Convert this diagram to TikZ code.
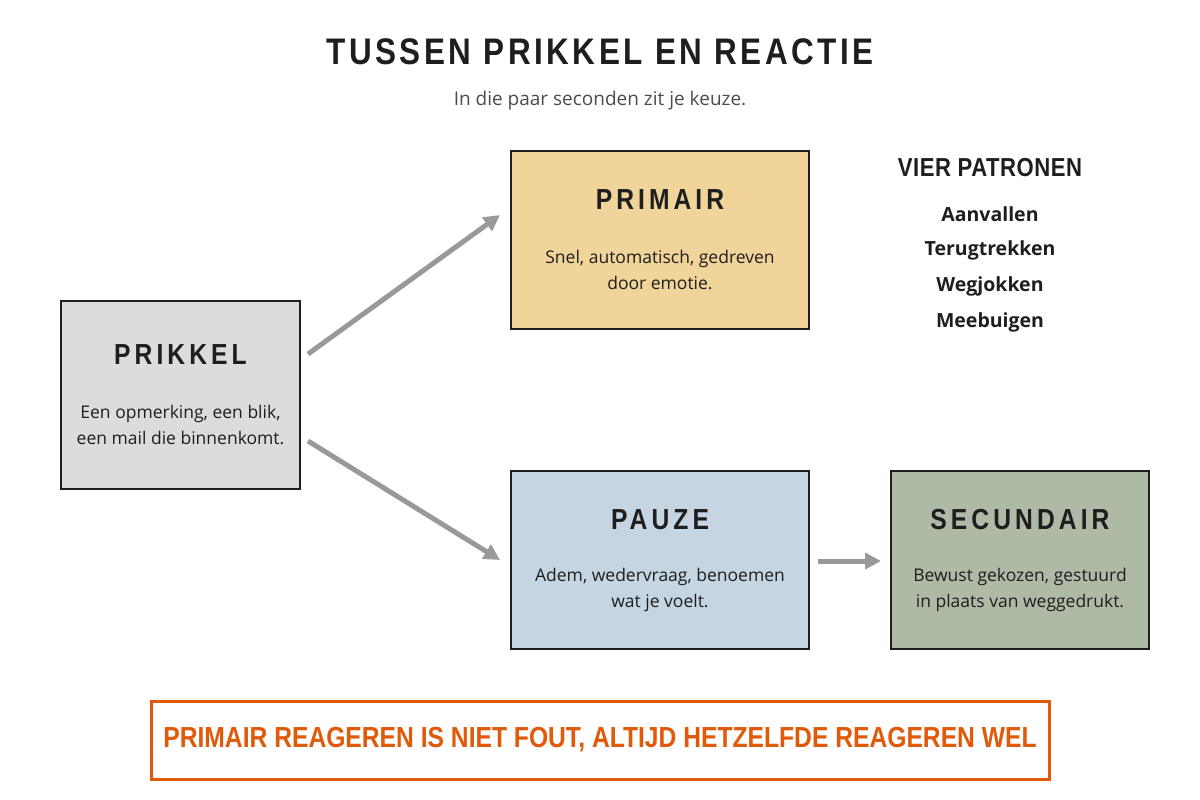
\documentclass[tikz,border=0pt]{standalone}
\usepackage{fontspec}
\setmainfont{Open Sans}
\newfontfamily\hdT{Liberation Sans}[FakeStretch=0.85,LetterSpace=9.5]
\newfontfamily\hdB{Liberation Sans}[FakeStretch=0.85,LetterSpace=14]
\newfontfamily\hdV{Liberation Sans}[FakeStretch=0.85,LetterSpace=2]
\newfontfamily\hd{Liberation Sans}[FakeStretch=0.85]
\usetikzlibrary{arrows.meta}
\definecolor{ink}{HTML}{1E1E1E}
\definecolor{cPrik}{HTML}{DCDCDC}
\definecolor{cPrim}{HTML}{F0D49A}
\definecolor{cPauz}{HTML}{C5D5E2}
\definecolor{cSec}{HTML}{AEBAA6}
\definecolor{org}{HTML}{E05A0A}
\definecolor{arr}{HTML}{999999}
\begin{document}
\begin{tikzpicture}[x=1pt,y=-1pt,
 box/.style={draw=ink,line width=2.5pt,inner sep=0pt},
 ttl/.style={font=\hdB\bfseries\fontsize{29}{32}\selectfont,text=ink},
 body/.style={font=\fontsize{17.5}{26}\selectfont,text=ink,align=center},
 ar/.style={draw=arr,line width=5pt,-{Triangle[length=16pt,width=16pt]}},
 pat/.style={font=\bfseries\fontsize{19.5}{22}\selectfont,text=ink}]
\useasboundingbox (0,0) rectangle (1200,800);
\node[font=\hdT\bfseries\fontsize{37}{40}\selectfont,text=ink] (title) at (600,52) {TUSSEN PRIKKEL EN REACTIE};
\node[font=\fontsize{19}{22}\selectfont,text=black!70] (sub) at (600,101) {In die paar seconden zit je keuze.};
\node[box,fill=cPrik,minimum width=239pt,minimum height=188pt] (prik) at (180.5,395) {};
\node[ttl] (prikt) at (180.5,355) {PRIKKEL};
\node[body] (prikb) at (180.5,425) {Een opmerking, een blik,\\een mail die binnenkomt.};
\node[box,fill=cPrim,minimum width=298pt,minimum height=178pt] (prim) at (660,240) {};
\node[ttl] (primt) at (660,200) {PRIMAIR};
\node[body] (primb) at (660,270) {Snel, automatisch, gedreven\\door emotie.};
\node[box,fill=cPauz,minimum width=298pt,minimum height=178pt] (pauz) at (660,560) {};
\node[ttl] (pauzt) at (660,520) {PAUZE};
\node[body] (pauzb) at (660,590) {Adem, wedervraag, benoemen\\wat je voelt.};
\node[box,fill=cSec,minimum width=258pt,minimum height=178pt] (sec) at (1020,560) {};
\node[ttl] (sect) at (1020,520) {SECUNDAIR};
\node[body] (secb) at (1020,590) {Bewust gekozen, gestuurd\\in plaats van weggedrukt.};
\node[font=\hdV\bfseries\fontsize{26}{28}\selectfont,text=ink] (vp) at (990,168) {VIER PATRONEN};
\node[pat] (p1) at (990,214) {Aanvallen};
\node[pat] (p2) at (990,250) {Terugtrekken};
\node[pat] (p3) at (990,286) {Wegjokken};
\node[pat] (p4) at (990,322) {Meebuigen};
\coordinate (a1s) at (308,354); \coordinate (a1e) at (500,215);
\coordinate (a2s) at (308,441); \coordinate (a2e) at (500,560);
\coordinate (a3s) at (818,561); \coordinate (a3e) at (881,561);
\draw[ar] (a1s) -- (a1e);
\draw[ar] (a2s) -- (a2e);
\draw[ar] (a3s) -- (a3e);
\node[draw=org,line width=3pt,fill=white,minimum width=898pt,minimum height=78pt,font=\hd\bfseries\fontsize{29}{30}\selectfont,text=org] (note) at (600,740) {PRIMAIR REAGEREN IS NIET FOUT, ALTIJD HETZELFDE REAGEREN WEL};
\end{tikzpicture}
\end{document}
